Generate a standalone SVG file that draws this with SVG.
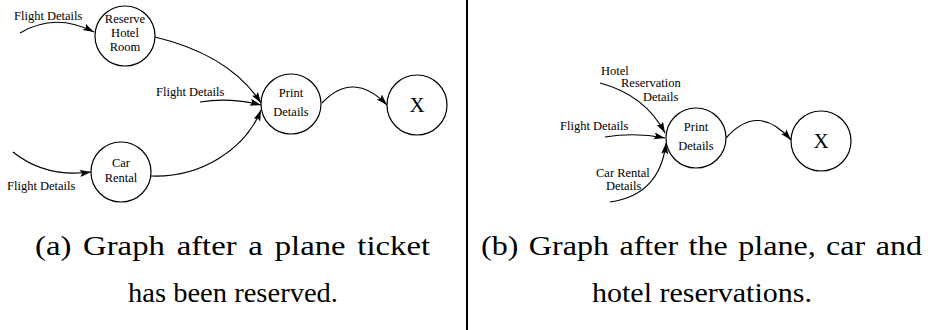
<svg xmlns="http://www.w3.org/2000/svg" width="936" height="330" viewBox="0 0 936 330">
<style>
text{font-family:"Liberation Serif","Times New Roman",serif;fill:#000}
.node{fill:#fff;stroke:#000;stroke-width:1.2}
.lbl{font-size:12.5px}
.nt{font-size:12.5px;text-anchor:middle}
.x{font-size:21px;text-anchor:middle}
.cap{font-size:27px}
.e{fill:none;stroke:#000;stroke-width:1.2;marker-end:url(#ah)}
</style>
<defs>
<marker id="ah" markerUnits="userSpaceOnUse" markerWidth="12" markerHeight="8" refX="11" refY="3.5" orient="auto">
<path d="M0,0 L11,3.5 L0,7 L2,3.5 z" fill="#000"/>
</marker>
</defs>
<rect width="936" height="330" fill="#fff"/>
<g id="connectors">
<path class="e" d="M20,33 Q55,12 94,32"/>
<path class="e" d="M155,37 Q230,55 261,103"/>
<path class="e" d="M200,102 Q230,97 261,105"/>
<path class="e" d="M151,176 C200,178 245,150 261,110"/>
<path class="e" d="M13,152 Q45,178 91,172"/>
<path class="e" d="M322,103 Q353,70 387,105"/>
<path class="e" d="M600,83 Q645,95 665,133"/>
<path class="e" d="M605,137 Q635,132 665,138"/>
<path class="e" d="M610,202 Q660,195 666,143"/>
<path class="e" d="M726,138 Q758,102 791,140"/>
</g>
<g id="edge-labels">
<text class="lbl" x="14" y="20">Flight Details</text>
<text class="lbl" x="156" y="96">Flight Details</text>
<text class="lbl" x="7" y="190">Flight Details</text>
<text class="lbl" x="601" y="75">Hotel</text>
<text class="lbl" x="621" y="87">Reservation</text>
<text class="lbl" x="643" y="101">Details</text>
<text class="lbl" x="560" y="130">Flight Details</text>
<text class="lbl" x="596" y="177">Car Rental</text>
<text class="lbl" x="606" y="190">Details</text>
</g>
<g id="reserve-hotel-room">
<circle class="node" cx="125" cy="36" r="30"/>
<text class="nt" x="125" y="23">Reserve</text>
<text class="nt" x="125" y="37">Hotel</text>
<text class="nt" x="125" y="51">Room</text>
</g>
<g id="print-details-a">
<circle class="node" cx="291" cy="104" r="30"/>
<text class="nt" x="291" y="97">Print</text>
<text class="nt" x="291" y="116">Details</text>
</g>
<g id="x-a">
<circle class="node" cx="417" cy="105" r="30"/>
<text class="x" x="417" y="112">X</text>
</g>
<g id="car-rental">
<circle class="node" cx="121" cy="172" r="30"/>
<text class="nt" x="121" y="167">Car</text>
<text class="nt" x="121" y="182">Rental</text>
</g>
<g id="print-details-b">
<circle class="node" cx="696" cy="138" r="30"/>
<text class="nt" x="696" y="131">Print</text>
<text class="nt" x="696" y="150">Details</text>
</g>
<g id="x-b">
<circle class="node" cx="821" cy="141" r="30"/>
<text class="x" x="821" y="148">X</text>
</g>
<line x1="467" y1="0" x2="467" y2="330" stroke="#000" stroke-width="2"/>
<g id="captions">
<text class="cap" x="35" y="255" word-spacing="3" textLength="395" lengthAdjust="spacingAndGlyphs">(a) Graph after a plane ticket</text>
<text class="cap" x="128" y="302" textLength="210" lengthAdjust="spacingAndGlyphs">has been reserved.</text>
<text class="cap" x="481" y="255" word-spacing="2" textLength="441" lengthAdjust="spacingAndGlyphs">(b) Graph after the plane, car and</text>
<text class="cap" x="592" y="302" textLength="220" lengthAdjust="spacingAndGlyphs">hotel reservations.</text>
</g>
</svg>
